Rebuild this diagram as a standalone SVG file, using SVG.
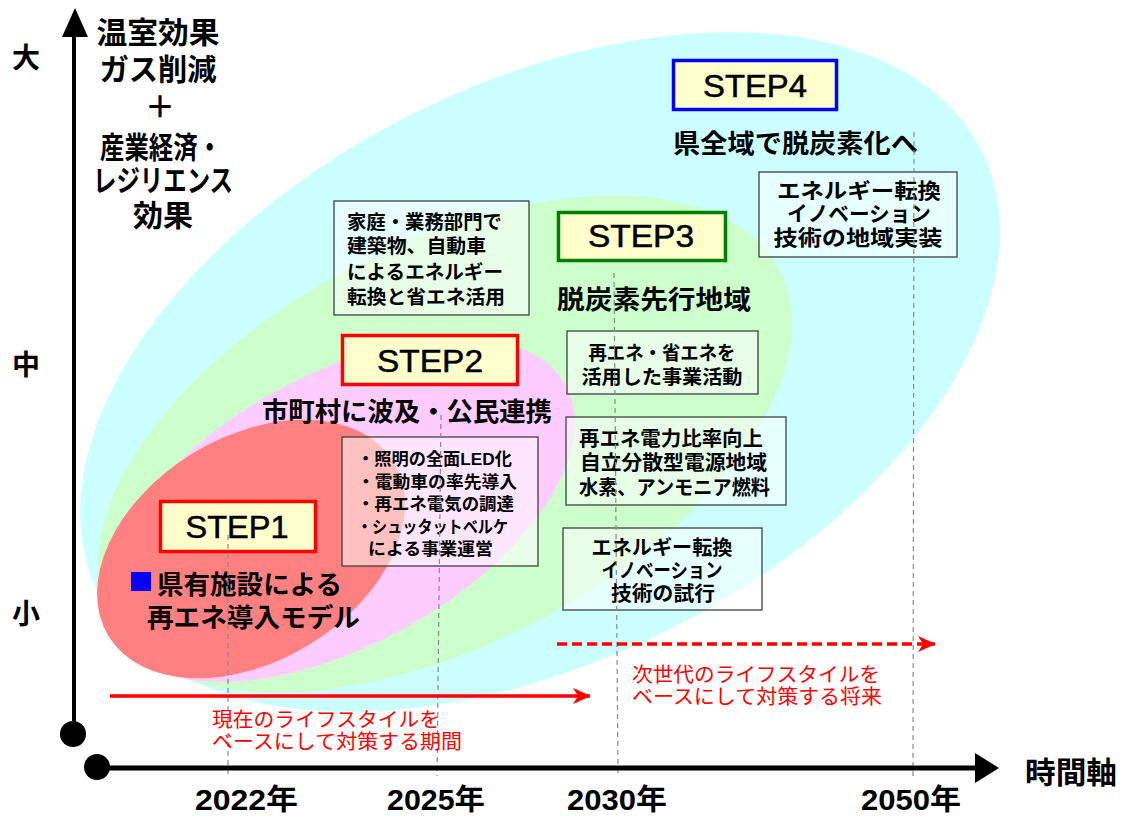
<svg xmlns="http://www.w3.org/2000/svg" width="1123" height="816" viewBox="0 0 1123 816">
<style>
text{font-family:"Liberation Sans","Noto Sans CJK JP",sans-serif;fill:#000}
.b{font-weight:bold}
.step{font-size:31px;text-anchor:middle;stroke:#000;stroke-width:0.5}
.lab{font-size:26px;font-weight:bold}
.tb{fill:#fff;fill-opacity:0.5;stroke:#404040;stroke-width:1.3}
.sb{fill:#FFFFCC;stroke-width:3.5}
.bt{font-weight:bold}
.red{fill:#FF0000;font-size:20px}
.guide{stroke:#8a8a8a;stroke-width:1.2;stroke-dasharray:5 4;fill:none}
.yr{font-size:29px;font-weight:bold}
</style>
<defs>
<marker id="ah" viewBox="0 0 20 20" refX="18" refY="10" markerWidth="20" markerHeight="20" markerUnits="userSpaceOnUse" orient="auto">
<polygon points="19,10 1,2 6,10 1,18" fill="#FF0000"/>
</marker>
</defs>
<rect width="1123" height="816" fill="#fff"/>
<g id="areas">
<ellipse id="area4" cx="540" cy="372" rx="494" ry="288" transform="rotate(-26.7 540 372)" fill="#CCFFFF"/>
<ellipse id="area3" cx="445" cy="444" rx="377" ry="200" transform="rotate(-27.5 445 444)" fill="#CCFFCC"/>
<ellipse id="area2" cx="340" cy="510" rx="258" ry="135" transform="rotate(-29 340 510)" fill="#FFCCFF"/>
<ellipse id="area1" cx="251" cy="549" rx="167" ry="112" transform="rotate(-31.5 251 549)" fill="#FF8080"/>
</g>
<g id="ytitle" class="b">
<text x="158" y="43" font-size="30" text-anchor="middle" textLength="123" lengthAdjust="spacingAndGlyphs">温室効果</text>
<text x="158" y="80" font-size="30" text-anchor="middle" textLength="117" lengthAdjust="spacingAndGlyphs">ガス削減</text>
<text x="160" y="117" font-size="30" text-anchor="middle">＋</text>
<text x="161" y="158" font-size="30" text-anchor="middle" textLength="122" lengthAdjust="spacingAndGlyphs">産業経済・</text>
<text x="163" y="191" font-size="30" text-anchor="middle" textLength="140" lengthAdjust="spacingAndGlyphs">レジリエンス</text>
<text x="163" y="226" font-size="30" text-anchor="middle" textLength="60" lengthAdjust="spacingAndGlyphs">効果</text>
</g>
<g id="ylevels" class="b" font-size="28">
<text x="26" y="68" text-anchor="middle">大</text>
<text x="26" y="375" text-anchor="middle">中</text>
<text x="26" y="624" text-anchor="middle">小</text>
</g>
<g id="step1">
<rect class="sb" x="160.5" y="501.5" width="155" height="50" stroke="#FF0000"/>
<text class="step" x="237" y="538" textLength="103" lengthAdjust="spacingAndGlyphs">STEP1</text>
<rect x="131" y="572" width="20" height="19" fill="#0000FF"/>
<text class="lab" x="157" y="594" textLength="185" lengthAdjust="spacingAndGlyphs">県有施設による</text>
<text class="lab" x="147" y="627" textLength="213" lengthAdjust="spacingAndGlyphs">再エネ導入モデル</text>
</g>
<g id="step2">
<rect class="sb" x="342.5" y="335.5" width="175" height="49" stroke="#FF0000"/>
<text class="step" x="430" y="372" textLength="106" lengthAdjust="spacingAndGlyphs">STEP2</text>
<text class="lab" x="262" y="421" textLength="290" lengthAdjust="spacingAndGlyphs">市町村に波及・公民連携</text>
</g>
<g id="step3">
<rect class="sb" x="558.5" y="212.5" width="167" height="48" stroke="#008000"/>
<text class="step" x="641" y="247" textLength="106" lengthAdjust="spacingAndGlyphs">STEP3</text>
<text class="lab" x="557" y="309" font-size="27" textLength="194" lengthAdjust="spacingAndGlyphs">脱炭素先行地域</text>
</g>
<g id="step4">
<rect class="sb" x="673.5" y="60.5" width="163" height="49" stroke="#0000FF"/>
<text class="step" x="755" y="97" textLength="104" lengthAdjust="spacingAndGlyphs">STEP4</text>
<text class="lab" x="673" y="153" font-size="27" textLength="245" lengthAdjust="spacingAndGlyphs">県全域で脱炭素化へ</text>
</g>
<g id="boxA">
<rect class="tb" x="334" y="201" width="195" height="114"/>
<g class="bt" font-size="19.5">
<text x="347" y="229" textLength="155" lengthAdjust="spacingAndGlyphs">家庭・業務部門で</text>
<text x="347" y="253" textLength="139" lengthAdjust="spacingAndGlyphs">建築物、自動車</text>
<text x="347" y="279" textLength="156" lengthAdjust="spacingAndGlyphs">によるエネルギー</text>
<text x="347" y="304" textLength="158" lengthAdjust="spacingAndGlyphs">転換と省エネ活用</text>
</g>
</g>
<g id="boxB">
<rect class="tb" x="342" y="437" width="196" height="129"/>
<g class="bt" font-size="17">
<text x="357" y="465" textLength="155" lengthAdjust="spacingAndGlyphs">・照明の全面LED化</text>
<text x="357" y="488" textLength="160" lengthAdjust="spacingAndGlyphs">・電動車の率先導入</text>
<text x="357" y="510" textLength="157" lengthAdjust="spacingAndGlyphs">・再エネ電気の調達</text>
<text x="357" y="533" textLength="151" lengthAdjust="spacingAndGlyphs">・シュッタットベルケ</text>
<text x="368" y="555" textLength="125" lengthAdjust="spacingAndGlyphs">による事業運営</text>
</g>
</g>
<g id="boxC">
<rect class="tb" x="567" y="331" width="191" height="63"/>
<g class="bt" font-size="19.5" text-anchor="middle">
<text x="662" y="360" textLength="147" lengthAdjust="spacingAndGlyphs">再エネ・省エネを</text>
<text x="662" y="384" textLength="161" lengthAdjust="spacingAndGlyphs">活用した事業活動</text>
</g>
</g>
<g id="boxD">
<rect class="tb" x="566" y="417" width="220" height="88"/>
<g class="bt" font-size="20">
<text x="579" y="446" textLength="184" lengthAdjust="spacingAndGlyphs">再エネ電力比率向上</text>
<text x="580" y="470" textLength="187" lengthAdjust="spacingAndGlyphs">自立分散型電源地域</text>
<text x="579" y="495" textLength="191" lengthAdjust="spacingAndGlyphs">水素、アンモニア燃料</text>
</g>
</g>
<g id="boxE">
<rect class="tb" x="563" y="528" width="199" height="82"/>
<g class="bt" font-size="20" text-anchor="middle">
<text x="662" y="555" textLength="141" lengthAdjust="spacingAndGlyphs">エネルギー転換</text>
<text x="662" y="578" textLength="121" lengthAdjust="spacingAndGlyphs">イノベーション</text>
<text x="663" y="601" textLength="104" lengthAdjust="spacingAndGlyphs">技術の試行</text>
</g>
</g>
<g id="boxF">
<rect class="tb" x="759" y="172" width="198" height="85"/>
<g class="bt" font-size="21" text-anchor="middle">
<text x="859" y="198" textLength="164" lengthAdjust="spacingAndGlyphs">エネルギー転換</text>
<text x="859" y="221" textLength="144" lengthAdjust="spacingAndGlyphs">イノベーション</text>
<text x="858" y="245" textLength="169" lengthAdjust="spacingAndGlyphs">技術の地域実装</text>
</g>
</g>
<g id="guides">
<line class="guide" x1="228" y1="535" x2="228" y2="776"/>
<line class="guide" x1="441" y1="415" x2="437" y2="776"/>
<line class="guide" x1="614" y1="273" x2="618" y2="776"/>
<line class="guide" x1="914" y1="132" x2="913" y2="776"/>
</g>
<g id="axes">
<line x1="74" y1="30" x2="74" y2="734" stroke="#000" stroke-width="4"/>
<polygon points="75,8 62,37 88,37" fill="#000"/>
<circle cx="73" cy="734" r="13" fill="#000"/>
<line x1="97" y1="768" x2="980" y2="768" stroke="#000" stroke-width="5"/>
<polygon points="999,768 975,753 975,783" fill="#000"/>
<circle cx="97" cy="767" r="13" fill="#000"/>
<text class="b" x="1025" y="783" font-size="30" textLength="92" lengthAdjust="spacingAndGlyphs">時間軸</text>
</g>
<g id="years">
<text class="yr" x="195" y="810" textLength="103" lengthAdjust="spacingAndGlyphs">2022年</text>
<text class="yr" x="387" y="810" textLength="98" lengthAdjust="spacingAndGlyphs">2025年</text>
<text class="yr" x="567" y="810" textLength="100" lengthAdjust="spacingAndGlyphs">2030年</text>
<text class="yr" x="861" y="810" textLength="100" lengthAdjust="spacingAndGlyphs">2050年</text>
</g>
<g id="connectors">
<line x1="110" y1="696" x2="590" y2="696" stroke="#FF0000" stroke-width="3.5" marker-end="url(#ah)"/>
<line x1="557" y1="644" x2="935" y2="644" stroke="#FF0000" stroke-width="3.5" stroke-dasharray="10 5" marker-end="url(#ah)"/>
</g>
<g id="periodNow">
<text class="red" x="212" y="727" textLength="228" lengthAdjust="spacingAndGlyphs">現在のライフスタイルを</text>
<text class="red" x="212" y="749" textLength="250" lengthAdjust="spacingAndGlyphs">ベースにして対策する期間</text>
</g>
<g id="periodFuture">
<text class="red" x="632" y="682" textLength="248" lengthAdjust="spacingAndGlyphs">次世代のライフスタイルを</text>
<text class="red" x="632" y="704" textLength="250" lengthAdjust="spacingAndGlyphs">ベースにして対策する将来</text>
</g>
</svg>
